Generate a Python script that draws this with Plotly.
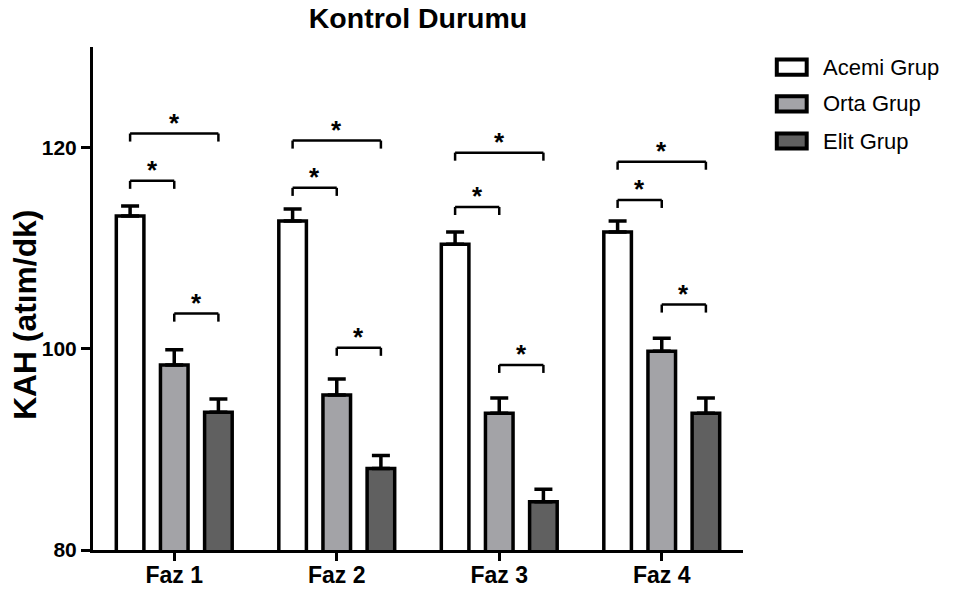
import plotly.graph_objects as go

categories = ["Faz 1", "Faz 2", "Faz 3", "Faz 4"]
groups = ["Acemi Grup", "Orta Grup", "Elit Grup"]
colors = ["#ffffff", "#a3a3a7", "#606060"]

acemi = [113.2, 112.7, 110.4, 111.6]
acemi_err = [1.0, 1.2, 1.2, 1.1]
orta = [98.4, 95.4, 93.6, 99.75]
orta_err = [1.5, 1.6, 1.5, 1.3]
elit = [93.7, 88.1, 84.8, 93.6]
elit_err = [1.3, 1.3, 1.25, 1.5]

values = [acemi, orta, elit]
errors = [acemi_err, orta_err, elit_err]

# significance brackets: (category index, group a, group b, bracket level)
brackets = [
    (0, 0, 1, 116.7), (0, 0, 2, 121.4), (0, 1, 2, 103.5),
    (1, 0, 1, 116.0), (1, 0, 2, 120.7), (1, 1, 2, 100.1),
    (2, 0, 1, 114.1), (2, 0, 2, 119.5), (2, 1, 2, 98.4),
    (3, 0, 1, 114.8), (3, 0, 2, 118.6), (3, 1, 2, 104.4),
]

FONT = "Liberation Sans, Arial, sans-serif"
BARGAP = 0.185
slot = (1 - BARGAP) / len(groups)

fig = go.Figure()
for name, vals, errs, col in zip(groups, values, errors, colors):
    fig.add_trace(go.Bar(
        x=categories, y=vals, name=name,
        marker=dict(color=col, line=dict(color="black", width=3.5)),
        error_y=dict(type="data", array=errs, arrayminus=[0] * len(errs),
                     symmetric=False, color="black", thickness=3.5, width=9),
        showlegend=False,
    ))

shapes = []
annotations = []
drop = 0.8
for ci, ga, gb, lvl in brackets:
    xa = ci + (ga - 1) * slot
    xb = ci + (gb - 1) * slot
    ln = dict(color="black", width=2.5)
    shapes.append(dict(type="line", xref="x", yref="y", x0=xa, x1=xb, y0=lvl, y1=lvl, line=ln))
    shapes.append(dict(type="line", xref="x", yref="y", x0=xa, x1=xa, y0=lvl, y1=lvl - drop, line=ln))
    shapes.append(dict(type="line", xref="x", yref="y", x0=xb, x1=xb, y0=lvl, y1=lvl - drop, line=ln))
    annotations.append(dict(x=(xa + xb) / 2, y=lvl, xref="x", yref="y", text="*",
                            showarrow=False, yanchor="middle", yshift=11,
                            font=dict(family=FONT, size=26, color="black", weight="bold")))

# manual legend (paper coordinates)
leg_y = [0.960, 0.887, 0.813]
for name, col, yc in zip(groups, colors, leg_y):
    shapes.append(dict(type="rect", xref="paper", yref="paper",
                       x0=1.052, x1=1.098, y0=yc - 0.015, y1=yc + 0.015,
                       fillcolor=col, line=dict(color="black", width=4)))
    annotations.append(dict(x=1.120, y=yc, xref="paper", yref="paper", text=name,
                            showarrow=False, xanchor="left", yanchor="middle",
                            font=dict(family=FONT, size=22, color="black")))

# y-axis title
annotations.append(dict(x=-0.105, y=0.467, xref="paper", yref="paper", text="KAH (atım/dk)",
                        textangle=-90, showarrow=False, xanchor="center", yanchor="middle",
                        font=dict(family=FONT, size=31.8, color="black", weight="bold")))

fig.update_layout(
    width=956, height=595,
    margin=dict(l=93, r=213, t=47, b=45),
    paper_bgcolor="white", plot_bgcolor="white",
    barmode="group", bargap=BARGAP, bargroupgap=0.375,
    title=dict(text="Kontrol Durumu", x=0.5, xref="paper", xanchor="center",
               y=1 - 18 / 595, yanchor="middle",
               font=dict(family=FONT, size=28.5, color="black", weight="bold")),
    shapes=shapes, annotations=annotations,
    font=dict(family=FONT, color="black"),
)
fig.update_xaxes(
    automargin=False,
    showline=True, linecolor="black", linewidth=3, showgrid=False, zeroline=False,
    ticks="outside", ticklen=8, tickwidth=2.5, tickcolor="black",
    ticklabelstandoff=-6,
    tickfont=dict(family=FONT, size=23, color="black", weight="bold"),
)
fig.update_yaxes(
    automargin=False,
    range=[80, 130], showline=True, linecolor="black", linewidth=3,
    showgrid=False, zeroline=False,
    tickvals=[80, 100, 120], ticks="outside", ticklen=9, tickwidth=3, tickcolor="black",
    tickfont=dict(family=FONT, size=21, color="black", weight="bold"),
)

fig.write_html("out.html", config={"displayModeBar": False},
               post_script="document.body.style.margin='0';document.body.style.overflow='hidden';")
